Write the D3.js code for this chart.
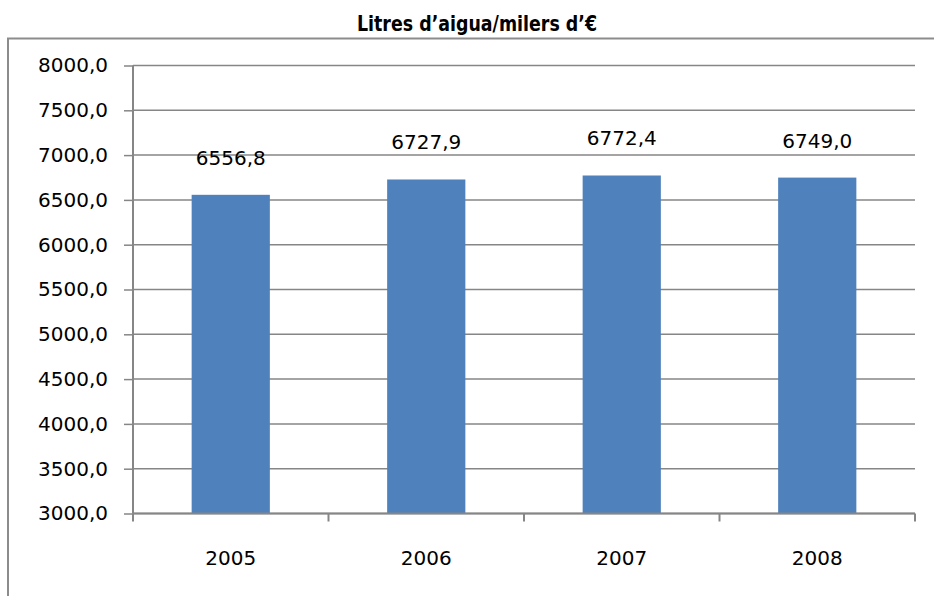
<!DOCTYPE html>
<html>
<head>
<meta charset="utf-8">
<script src="https://cdn.jsdelivr.net/npm/d3@7"></script>
<style>
  body { margin: 0; background: #fff; }
  svg { display: block; }
</style>
</head>
<body>
<div id="chart"></div>
<script>
// chart data
var years = ["2005", "2006", "2007", "2008"];
var litres = [6556.8, 6727.9, 6772.4, 6749.0];
var yTicks = [3000, 3500, 4000, 4500, 5000, 5500, 6000, 6500, 7000, 7500, 8000];
var title = "Litres d\u2019aigua/milers d\u2019\u20ac";

var svgWidth = 934;
var svgHeight = 596;

var margin = { top: 65.5, bottom: 82.5, left: 133, right: 19 };
var width = svgWidth - margin.left - margin.right;
var height = svgHeight - margin.top - margin.bottom;

var axisColor = "#868686";
var labelFont = "'DejaVu Sans', sans-serif";

// catalan style numbers: 6556,8
var locale = d3.formatLocale({ decimal: ",", thousands: ".", grouping: [3], currency: ["", "\u20ac"] });
var fmt = locale.format(".1f");

var svg = d3.select("#chart")
  .append("svg")
  .attr("width", svgWidth)
  .attr("height", svgHeight);

// outer chart frame (runs off the right and bottom of the picture)
svg.append("rect")
  .attr("x", 8)
  .attr("y", 38.5)
  .attr("width", svgWidth + 20)
  .attr("height", svgHeight + 20)
  .attr("fill", "none")
  .attr("stroke", "#8c8c8c")
  .attr("stroke-width", 2);

// title (squeezed a bit, the original font is narrow)
svg.append("text")
  .attr("transform", "translate(477, 31) scale(0.88, 1)")
  .attr("text-anchor", "middle")
  .attr("font-family", "'DejaVu Sans Condensed', 'DejaVu Sans', sans-serif")
  .attr("font-stretch", "condensed")
  .attr("font-weight", "bold")
  .attr("font-size", "22px")
  .attr("fill", "#000")
  .text(title);

var chartGroup = svg.append("g")
  .attr("transform", `translate(${margin.left}, ${margin.top})`);

// scales
var xBandScale = d3.scaleBand()
  .domain(years)
  .range([0, width])
  .paddingInner(0.6)
  .paddingOuter(0.3);

var yLinearScale = d3.scaleLinear()
  .domain([3000, 8000])
  .range([height, 0]);

// gridlines
chartGroup.append("g")
  .selectAll("line")
  .data(yTicks)
  .enter()
  .append("line")
  .attr("x1", 0)
  .attr("x2", width)
  .attr("y1", d => yLinearScale(d))
  .attr("y2", d => yLinearScale(d))
  .attr("stroke", axisColor)
  .attr("stroke-width", 1.5);

// bars
chartGroup.selectAll("rect.bar")
  .data(litres)
  .enter()
  .append("rect")
  .attr("class", "bar")
  .attr("x", (d, i) => xBandScale(years[i]))
  .attr("y", d => yLinearScale(d))
  .attr("width", xBandScale.bandwidth())
  .attr("height", d => height - yLinearScale(d))
  .attr("fill", "#4f81bd");

// value labels
chartGroup.selectAll("text.value")
  .data(litres)
  .enter()
  .append("text")
  .attr("class", "value")
  .attr("x", (d, i) => xBandScale(years[i]) + xBandScale.bandwidth() / 2)
  .attr("y", d => yLinearScale(d) - 30)
  .attr("text-anchor", "middle")
  .attr("font-family", labelFont)
  .attr("font-size", "20px")
  .attr("fill", "#000")
  .text(d => fmt(d));

// y axis
var yAxis = d3.axisLeft(yLinearScale)
  .tickValues(yTicks)
  .tickSize(9)
  .tickPadding(16)
  .tickFormat(fmt);

var yAxisGroup = chartGroup.append("g").call(yAxis);

// x axis: ticks sit between categories
var xAxisGroup = chartGroup.append("g")
  .attr("transform", `translate(0, ${height})`);

xAxisGroup.append("line")
  .attr("x1", 0)
  .attr("x2", width)
  .attr("stroke", axisColor)
  .attr("stroke-width", 2);

var step = xBandScale.step();
xAxisGroup.selectAll("line.tick")
  .data(d3.range(years.length + 1))
  .enter()
  .append("line")
  .attr("class", "tick")
  .attr("x1", i => i * step)
  .attr("x2", i => i * step)
  .attr("y1", 0)
  .attr("y2", 8)
  .attr("stroke", axisColor)
  .attr("stroke-width", 2);

xAxisGroup.selectAll("text")
  .data(years)
  .enter()
  .append("text")
  .attr("x", d => xBandScale(d) + xBandScale.bandwidth() / 2)
  .attr("y", 51)
  .attr("text-anchor", "middle")
  .attr("font-family", labelFont)
  .attr("font-size", "20px")
  .attr("fill", "#000")
  .text(d => d);

// axis styling
yAxisGroup.select(".domain")
  .attr("stroke", axisColor)
  .attr("stroke-width", 2)
  .attr("d", `M0,0V${height}`);
yAxisGroup.selectAll(".tick line")
  .attr("stroke", axisColor)
  .attr("stroke-width", 1.5);
yAxisGroup.selectAll(".tick text")
  .attr("font-family", labelFont)
  .attr("font-size", "20px")
  .attr("fill", "#000");
</script>
</body>
</html>
